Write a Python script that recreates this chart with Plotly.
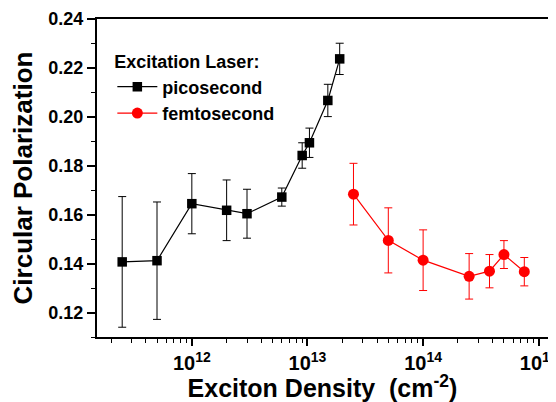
import plotly.graph_objects as go

# Picosecond data
pico_x = [2.5e11, 5e11, 1e12, 2e12, 3e12, 6e12, 9e12, 1.04e13, 1.5e13, 1.9e13]
pico_y = [0.1407, 0.1412, 0.1645, 0.1618, 0.1604, 0.1672, 0.1842, 0.1894, 0.2067, 0.2237]
pico_err = [0.0267, 0.0240, 0.0123, 0.0124, 0.0100, 0.0037, 0.0052, 0.0060, 0.0066, 0.0064]

# Femtosecond data
femto_x = [2.5e13, 5e13, 1e14, 2.5e14, 3.75e14, 5e14, 7.5e14]
femto_y = [0.1684, 0.1495, 0.1414, 0.1348, 0.1369, 0.1437, 0.1367]
femto_err = [0.0126, 0.0133, 0.0124, 0.0093, 0.0068, 0.0057, 0.0058]

# Tick labels
x_major = [1e12, 1e13, 1e14, 1e15]
x_major_text = ["10<sup>12</sup>", "10<sup>13</sup>", "10<sup>14</sup>", "10<sup>15</sup>"]
x_minor = [m * 10 ** e for e in range(11, 15) for m in range(2, 10)]
y_major = [0.12, 0.14, 0.16, 0.18, 0.20, 0.22, 0.24]
y_major_text = ["0.12", "0.14", "0.16", "0.18", "0.20", "0.22", "0.24"]

FONT = "Liberation Sans, Arial, sans-serif"

fig = go.Figure()
fig.add_trace(go.Scatter(
    x=pico_x, y=pico_y, name="picosecond", mode="lines+markers",
    line=dict(color="black", width=1.2),
    marker=dict(symbol="square", size=9.5, color="black"),
    error_y=dict(type="data", array=pico_err, color="black", thickness=1, width=4),
))
fig.add_trace(go.Scatter(
    x=femto_x, y=femto_y, name="femtosecond", mode="lines+markers",
    line=dict(color="red", width=1.2),
    marker=dict(symbol="circle", size=11, color="red"),
    error_y=dict(type="data", array=femto_err, color="red", thickness=1, width=4),
))

# The page body adds an 8px margin, so the figure is 8px smaller and margins shifted.
fig.update_layout(
    width=548, height=394,
    margin=dict(l=89, r=8, t=11, b=65),
    paper_bgcolor="white", plot_bgcolor="white",
    font=dict(family=FONT, color="black", size=18, weight="bold"),
    showlegend=True,
    legend=dict(
        x=0.034, y=0.918, xanchor="left", yanchor="top",
        bgcolor="rgba(0,0,0,0)",
        title=dict(text="Excitation Laser:", font=dict(size=18, weight="bold")),
        font=dict(size=18, weight="bold"),
        tracegroupgap=0, itemwidth=40,
    ),
    xaxis=dict(
        type="log", range=[11.18, 15.08], automargin=False,
        title=dict(text="Exciton Density  (cm<sup>-2</sup>)", font=dict(size=25, weight="bold"), standoff=2),
        tickmode="array", tickvals=x_major, ticktext=x_major_text,
        ticklabeloverflow="allow",
        ticks="outside", ticklen=7, tickwidth=1.5, tickcolor="black",
        tickfont=dict(size=20, weight="bold"),
        minor=dict(tickmode="array", tickvals=x_minor, ticks="outside", ticklen=4, tickwidth=1.2, tickcolor="black"),
        showline=True, linecolor="black", linewidth=2, mirror=True,
        showgrid=False, zeroline=False,
    ),
    yaxis=dict(
        range=[0.11, 0.24], automargin=False,
        title=dict(text="Circular Polarization", font=dict(size=26, weight="bold"), standoff=12),
        tickmode="array", tickvals=y_major, ticktext=y_major_text,
        ticks="outside", ticklen=8, tickwidth=1.5, tickcolor="black",
        tickfont=dict(size=18, weight="bold"),
        minor=dict(dtick=0.01, tick0=0.11, ticks="outside", ticklen=4, tickwidth=1.2, tickcolor="black"),
        showline=True, linecolor="black", linewidth=2, mirror=True,
        showgrid=False, zeroline=False,
    ),
)

fig.write_html("out.html")
